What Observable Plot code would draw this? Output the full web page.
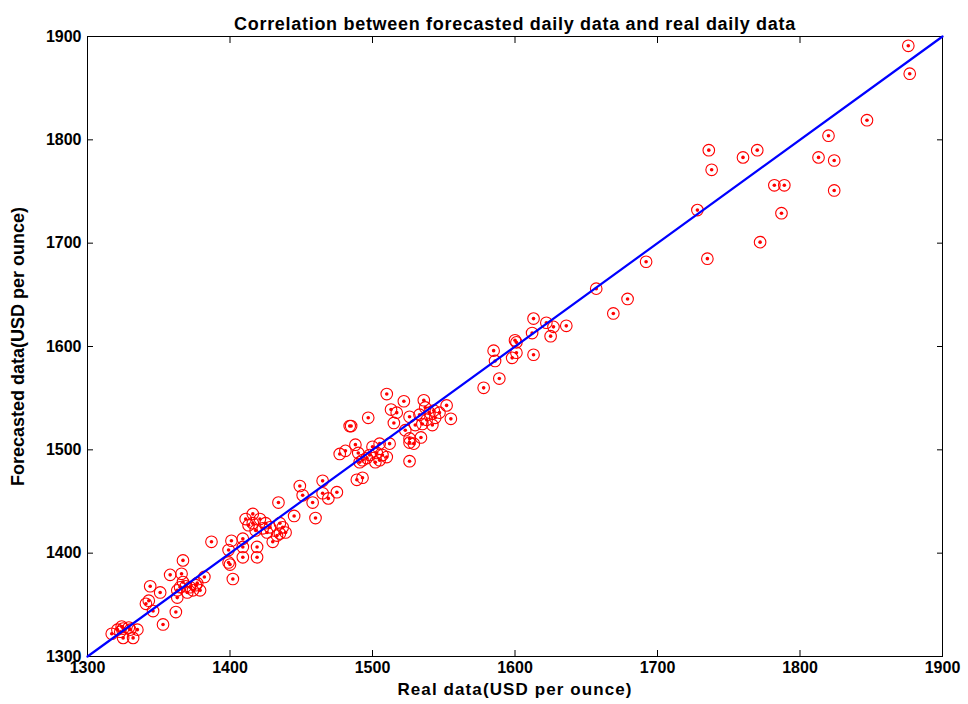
<!DOCTYPE html>
<html><head><meta charset="utf-8">
<script src="https://cdn.jsdelivr.net/npm/d3@7"></script>
<script src="https://cdn.jsdelivr.net/npm/@observablehq/plot@0.6"></script>
<style>body{margin:0;background:#fff;} #chart svg{display:block;}</style>
</head><body><div id="chart"></div>
<script>
// Real data (x) and forecasted data (y), USD per ounce
const realData = [
  1317,1321,1324,1325,1325,1329,1330,1332,1335,1323,
  1353,1346,1362,1341,1343,1344,1351,
  1358,1367,1366,1367,1363,1363,1365,1369,1372,1377,1379,1382,1370,1374,1376,
  1387,1401,1399,1400,1399,1402,1409,1409,1409,1419,1419,1430,1416,1411,1421,1425,1428,1435,1437,1439,1435,1433,1426,1423,1418,1413,1416,1434,1445,1449,
  1465,1451,1475,1469,1465,1458,1460,1489,1493,1485,
  1488,1481,1477,1500,1505,1512,1493,1498,1503,1507,1510,1505,1502,1496,1491,1490,1526,
  1510,1522,1536,1552,1497,1484,1513,1517,1515,1526,1533,1540,1538,1544,1547,1555,1535,1523,1526,1534,1529,1526,1543,1530,1542,1537,
  1613,1622,1627,1636,1625,1612,1600,1601,1585,1601,1586,1598,1613,1589,1578,
  1657,1692,1679,1669,1735,1728,1736,1738,1760,1770,1772,1782,1789,1787,1813,1824,1824,1820,1847,1876,1877
];
const forecastData = [
  1322,1326,1329,1327,1318,1328,1326,1318,1326,1324,
  1331,1344,1343,1351,1354,1368,1362,
  1379,1393,1380,1372,1364,1357,1367,1368,1367,1371,1364,1377,1362,1364,1369,
  1411,1412,1403,1389,1391,1375,1414,1406,1396,1396,1406,1411,1438,1433,1433,1429,1425,1429,1425,1420,1419,1417,1420,1424,1422,1427,1429,1449,1436,1465,
  1470,1456,1459,1453,1458,1449,1434,1471,1473,1523,
  1505,1499,1496,1503,1506,1506,1490,1495,1497,1495,1493,1490,1488,1492,1488,1497,1489,
  1554,1547,1548,1543,1531,1523,1539,1536,1526,1532,1534,1536,1529,1531,1536,1530,1525,1519,1511,1512,1506,1507,1538,1524,1524,1541,
  1627,1623,1619,1620,1610,1613,1606,1604,1596,1594,1586,1589,1592,1569,1560,
  1656,1682,1646,1632,1685,1732,1790,1771,1783,1790,1701,1756,1756,1729,1783,1780,1751,1804,1819,1891,1864
];
const xTicks = [1300, 1400, 1500, 1600, 1700, 1800, 1900];
const yTicks = [1300, 1400, 1500, 1600, 1700, 1800, 1900];
const fitLine = [1300, 1900];
const titleText = "Correlation between forecasted daily data and real daily data";
const xLabel = "Real data(USD per ounce)";
const yLabel = "Forecasted data(USD per ounce)";

const points = realData.map((x, i) => ({x, y: forecastData[i]}));
const linePts = fitLine.map(v => ({x: v, y: v}));
const font = "Liberation Sans, Arial, sans-serif";

const chart = Plot.plot({
  width: 968, height: 704,
  marginLeft: 87, marginRight: 26, marginTop: 36, marginBottom: 48,
  style: {fontFamily: font, background: "#fff", color: "black"},
  x: {domain: [1300, 1900]},
  y: {domain: [1300, 1900]},
  marks: [
    Plot.frame({stroke: "black", strokeWidth: 1}),
    Plot.axisX({ticks: xTicks, tickSize: -6, tickPadding: 11, fontSize: 16, fontWeight: "bold", label: null, tickFormat: d => String(d)}),
    Plot.axisX({anchor: "top", ticks: xTicks, tickSize: -6, label: null, tickFormat: () => ""}),
    Plot.axisY({ticks: yTicks, tickSize: -6, tickPadding: 12, fontSize: 16, fontWeight: "bold", label: null, tickFormat: d => String(d)}),
    Plot.axisY({anchor: "right", ticks: yTicks, tickSize: -6, label: null, tickFormat: () => ""}),
    Plot.dot(points, {x: "x", y: "y", r: 5.8, stroke: "#ff0000", strokeWidth: 1.1, fill: "none"}),
    Plot.dot(points, {x: "x", y: "y", r: 1.8, fill: "#ff0000", stroke: "none"}),
    Plot.line(linePts, {x: "x", y: "y", stroke: "#0000ff", strokeWidth: 2.2}),
    Plot.text([titleText], {text: d => d, frameAnchor: "top", dy: -19, fontSize: 18, fontWeight: "bold", textAnchor: "middle"}),
    Plot.text([xLabel], {text: d => d, frameAnchor: "bottom", dy: 38, fontSize: 17, fontWeight: "bold", textAnchor: "middle"}),
    Plot.text([yLabel], {text: d => d, frameAnchor: "left", dx: -69, rotate: -90, fontSize: 18, fontWeight: "bold", textAnchor: "middle"})
  ]
});
d3.select(chart).selectAll("text").filter(function() { return this.textContent === titleText; })
  .attr("letter-spacing", "0.7px");
d3.select(chart).selectAll("text").filter(function() { return this.textContent === xLabel; })
  .attr("letter-spacing", "1.1px");
document.getElementById("chart").appendChild(chart);
</script>
</body></html>
